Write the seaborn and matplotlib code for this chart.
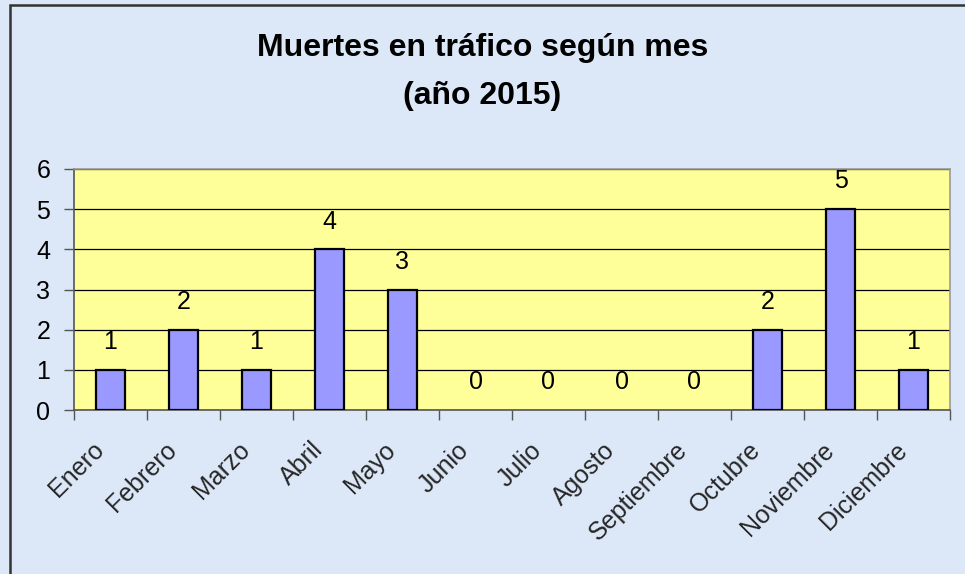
import matplotlib
matplotlib.use("Agg")
import matplotlib.pyplot as plt
import matplotlib.transforms as mtransforms
import seaborn as sns
import pandas as pd
from matplotlib.patches import Rectangle
from matplotlib.ticker import FixedLocator

meses = ["Enero", "Febrero", "Marzo", "Abril", "Mayo", "Junio", "Julio",
         "Agosto", "Septiembre", "Octubre", "Noviembre", "Diciembre"]
muertes = [1, 2, 1, 4, 3, 0, 0, 0, 0, 2, 5, 1]
y_ticks = [0, 1, 2, 3, 4, 5, 6]

df = pd.DataFrame({"mes": meses, "muertes": muertes})

sns.set_theme(style="white")
plt.rcParams["font.family"] = ["Liberation Sans", "DejaVu Sans"]

BG = "#dce8f7"
fig = plt.figure(figsize=(9.65, 5.74), dpi=100, facecolor=BG)
ax = fig.add_axes([74 / 965, 1 - 410 / 574, 876 / 965, 241 / 574])
ax.set_facecolor("#ffff99")

sns.barplot(data=df, x="mes", y="muertes", color="#9999ff", width=0.41,
            edgecolor="black", linewidth=1.6, saturation=1, ax=ax, zorder=3)
# zero bars have no visible outline in the original
for patch, v in zip(ax.patches, muertes):
    if v == 0:
        patch.set_linewidth(0)

ax.set_xlim(-0.5, len(meses) - 0.5)
ax.set_ylim(0, 6)
ax.set_yticks(y_ticks)
ax.grid(axis="y", color="black", linewidth=0.9, zorder=1)
ax.grid(axis="x", visible=False)
ax.set_xlabel("")
ax.set_ylabel("")

for s in ["top", "right"]:
    ax.spines[s].set_color("#999999")
    ax.spines[s].set_linewidth(1.2)
for s in ["left", "bottom"]:
    ax.spines[s].set_color("#555555")
    ax.spines[s].set_linewidth(1.2)

ax.tick_params(axis="y", which="major", length=7, width=1, color="#555555",
               direction="out", left=True, labelsize=18, pad=10, labelcolor="black")
ax.xaxis.set_minor_locator(FixedLocator([i - 0.5 for i in range(len(meses) + 1)]))
ax.tick_params(axis="x", which="minor", length=7, width=1, color="#555555",
               direction="out", bottom=True)
ax.tick_params(axis="x", which="major", length=0, labelsize=18, pad=20)
ax.set_xticks(range(len(meses)))
ax.set_xticklabels(meses, rotation=45, ha="right", rotation_mode="anchor")
shift = mtransforms.ScaledTranslation(-19 / 100, 0, fig.dpi_scale_trans)
for lbl in ax.get_xticklabels():
    lbl.set_transform(lbl.get_transform() + shift)

for i, v in enumerate(muertes):
    ax.annotate(str(v), xy=(i, v), xytext=(0, 20), textcoords="offset points",
                ha="center", va="center", fontsize=18, color="black", zorder=5)

fig.text(0.5, 1 - 48 / 574, "Muertes en tráfico según mes", ha="center",
         va="center", fontsize=23, fontweight="bold", color="black")
fig.text(0.5, 1 - 96 / 574, "(año 2015)", ha="center", va="center",
         fontsize=23, fontweight="bold", color="black")

fig.patches.append(Rectangle((10 / 965, -0.05), 1.2, 1 - 5 / 574 + 0.05,
                             transform=fig.transFigure, fill=False,
                             edgecolor="#333333", linewidth=1.8))

fig.savefig("out.png", dpi=100, facecolor=BG)
